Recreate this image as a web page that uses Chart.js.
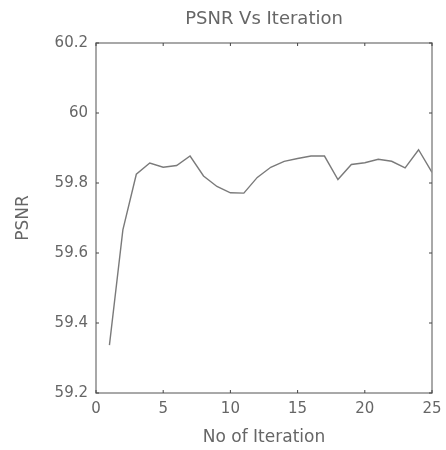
<!DOCTYPE html>
<html>
<head>
<meta charset="utf-8">
<script src="https://cdn.jsdelivr.net/npm/chart.js@4.4.1/dist/chart.umd.min.js"></script>
<style>
  html, body { margin: 0; padding: 0; background: #fff; }
  #wrap { width: 446px; height: 450px; }
</style>
</head>
<body>
<div id="wrap"><canvas id="psnrChart"></canvas></div>
<script>
const iterations = [1, 2, 3, 4, 5, 6, 7, 8, 9, 10, 11, 12, 13, 14, 15, 16, 17, 18, 19, 20, 21, 22, 23, 24, 25];
const psnr = [59.337, 59.666, 59.825, 59.857, 59.845, 59.850, 59.877, 59.820, 59.790, 59.772, 59.771, 59.816,
              59.845, 59.862, 59.870, 59.877, 59.877, 59.810, 59.853, 59.858, 59.868, 59.862, 59.843, 59.895, 59.830];
const xTicks = [0, 5, 10, 15, 20, 25];
const yTicks = [59.2, 59.4, 59.6, 59.8, 60, 60.2];
const chartTitle = 'PSNR Vs Iteration';

const axisGray = '#8c8c8c';
const textGray = '#666';
const family = 'DejaVu Sans, sans-serif';

// box round the plot, small inward ticks, title centred over the plot (matlab style)
const frame = {
  id: 'frame',
  afterDraw(chart) {
    const { ctx, chartArea: a, scales } = chart;
    ctx.save();
    ctx.strokeStyle = axisGray;
    ctx.lineWidth = 1.5;
    ctx.strokeRect(a.left, a.top, a.right - a.left, a.bottom - a.top);
    ctx.lineWidth = 1;
    ctx.strokeStyle = '#444';
    const len = 3;
    xTicks.forEach(v => {
      const x = scales.x.getPixelForValue(v);
      ctx.beginPath();
      ctx.moveTo(x, a.bottom); ctx.lineTo(x, a.bottom - len);
      ctx.moveTo(x, a.top); ctx.lineTo(x, a.top + len);
      ctx.stroke();
    });
    yTicks.forEach(v => {
      const y = scales.y.getPixelForValue(v);
      ctx.beginPath();
      ctx.moveTo(a.left, y); ctx.lineTo(a.left + len, y);
      ctx.moveTo(a.right, y); ctx.lineTo(a.right - len, y);
      ctx.stroke();
    });
    ctx.fillStyle = textGray;
    ctx.font = '18px ' + family;
    ctx.textAlign = 'center';
    ctx.textBaseline = 'middle';
    ctx.fillText(chartTitle, (a.left + a.right) / 2, 19);
    ctx.restore();
  }
};

const tickFont = { family: family, size: 15 };
const titleFont = { family: family, size: 17 };

new Chart(document.getElementById('psnrChart'), {
  type: 'line',
  data: {
    datasets: [{
      label: 'PSNR',
      data: iterations.map((it, i) => ({ x: it, y: psnr[i] })),
      borderColor: '#7a7a7a',
      borderWidth: 1.4,
      pointRadius: 0,
      tension: 0,
      fill: false
    }]
  },
  options: {
    responsive: true,
    maintainAspectRatio: false,
    animation: false,
    layout: { padding: { left: 0, right: 14, top: 43, bottom: 0 } },
    plugins: {
      legend: { display: false },
      tooltip: { enabled: false },
      title: { display: false }
    },
    scales: {
      x: {
        type: 'linear',
        min: 0,
        max: 25,
        afterBuildTicks: s => { s.ticks = xTicks.map(v => ({ value: v })); },
        afterFit: s => { s.height = 57; s.paddingLeft = 0; s.paddingRight = 0; },
        grid: { display: false, drawTicks: false },
        border: { display: false },
        ticks: { color: textGray, font: tickFont, padding: 7, maxRotation: 0 },
        title: { display: true, text: 'No of Iteration', color: textGray, font: titleFont, padding: { top: 2.5, bottom: 2.5 } }
      },
      y: {
        min: 59.2,
        max: 60.2,
        afterBuildTicks: s => { s.ticks = yTicks.map(v => ({ value: v })); },
        afterFit: s => { s.width = 96; s.paddingTop = 0; s.paddingBottom = 0; },
        grid: { display: false, drawTicks: false },
        border: { display: false },
        ticks: {
          color: textGray, font: tickFont, padding: 8,
          callback: v => String(Number(v.toFixed(1)))
        },
        title: { display: true, text: 'PSNR', color: textGray, font: titleFont, padding: { top: 13, bottom: 13 } }
      }
    }
  },
  plugins: [frame]
});
</script>
</body>
</html>
